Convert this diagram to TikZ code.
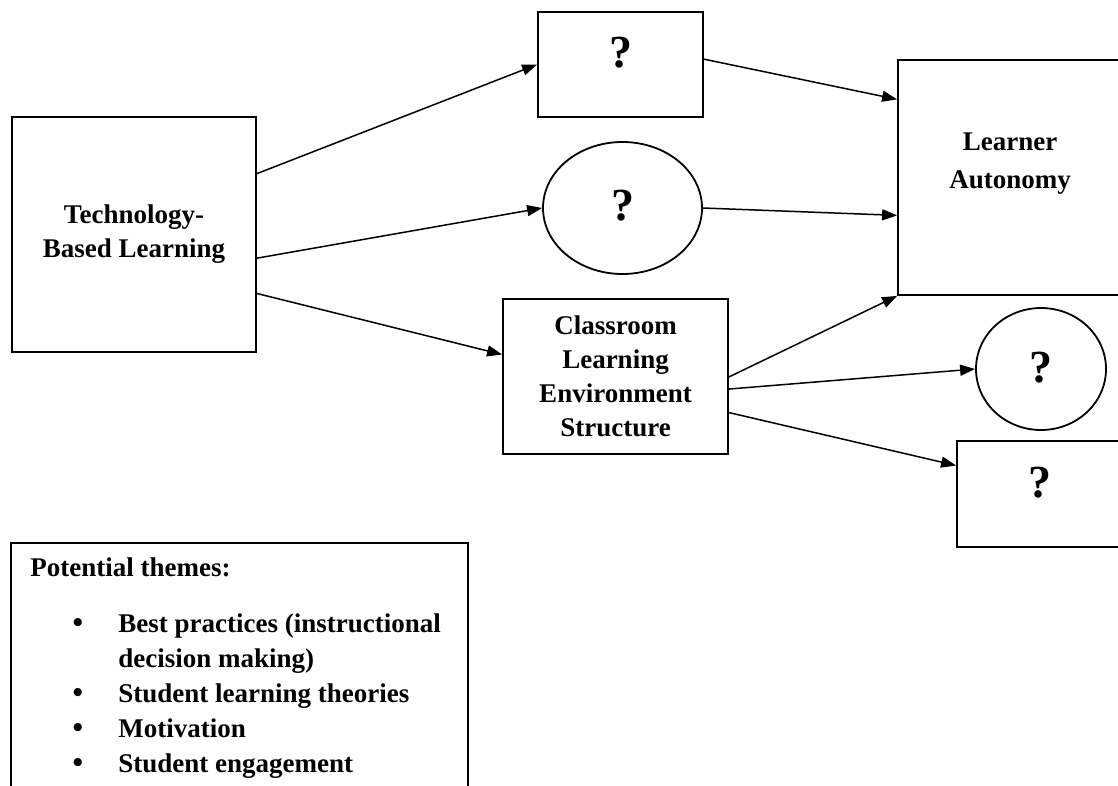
\documentclass[tikz,border=0pt]{standalone}
\usepackage{fontspec}
\setmainfont{Liberation Serif}
\usetikzlibrary{arrows.meta,calc,shapes.geometric}
\begin{document}
\begin{tikzpicture}[x=0.5pt,y=-0.5pt,
  box/.style={draw, line width=0.9pt, rectangle, inner sep=0pt},
  oval/.style={draw, line width=0.9pt, ellipse, inner sep=0pt},
  txt/.style={font=\bfseries\fontsize{13.5}{17}\selectfont, align=center, inner sep=0pt},
  qm/.style={font=\bfseries\fontsize{23}{27}\selectfont, inner sep=0pt},
  item/.style={font=\bfseries\fontsize{13.5}{17}\selectfont, inner sep=0pt, anchor=base west},
  bul/.style={font=\bfseries\fontsize{15}{17}\selectfont, inner sep=0pt, anchor=base},
  arr/.style={line width=0.75pt, -{Triangle[length=7.5pt,width=5.5pt]}}]
\useasboundingbox (0,0) rectangle (1118,786);
\clip (0,0) rectangle (1118,786);
\fill[white] (0,0) rectangle (1118,786);

% nodes
\node[box, txt, minimum width=122pt, minimum height=117.5pt] (tech) at (134,234.5) {Technology-\\Based Learning};

\node[box, minimum width=82.5pt, minimum height=52.5pt] (q1) at (620.5,64.5) {};
\node[qm] (q1t) at (620.5,53) {?};

\node[oval, minimum width=79.5pt, minimum height=66pt] (e1) at (622.5,208) {};
\node[qm] (e1t) at (622.5,206) {?};

\node[box, minimum width=112pt, minimum height=117.5pt] (L) at (1010,177.5) {};
\node[txt, font=\bfseries\fontsize{13.5}{19}\selectfont] (Lt) at (1010,164) {Learner\\Autonomy};

\node[box, txt, minimum width=112.5pt, minimum height=77.5pt] (C) at (615.5,376.5) {Classroom\\Learning\\Environment\\Structure};

\node[oval, minimum width=65pt, minimum height=61pt] (e2) at (1041,369) {};
\node[qm] (e2t) at (1041,368) {?};

\node[box, minimum width=83pt, minimum height=53pt] (q2) at (1040,494) {};
\node[qm] (q2t) at (1040,483) {?};

% themes box
\node[box, minimum width=228.5pt, minimum height=138.5pt] (themes) at (239.5,681.5) {};
\node[item] (h) at (30,576) {Potential themes:};
\node[bul] (b1) at (78,632) {•};
\node[item] (i1) at (118,632) {Best practices (instructional};
\node[item] (i1b) at (118,667) {decision making)};
\node[bul] (b2) at (78,702) {•};
\node[item] (i2) at (118,702) {Student learning theories};
\node[bul] (b3) at (78,737) {•};
\node[item] (i3) at (118,737) {Motivation};
\node[bul] (b4) at (78,772) {•};
\node[item] (i4) at (118,772) {Student engagement};

% connectors
\draw[arr] ($(tech.north east)!0.243!(tech.south east)$) -- (q1.west);
\draw[arr] ($(tech.north east)!0.6!(tech.south east)$) -- (e1.west);
\draw[arr] ($(tech.north east)!0.749!(tech.south east)$) -- ($(C.north west)!0.36!(C.south west)$);
\draw[arr] ($(q1.north east)!0.45!(q1.south east)$) -- ($(L.north west)!0.17!(L.south west)$);
\draw[arr] (e1.east) -- ($(L.north west)!0.66!(L.south west)$);
\draw[arr] ($(C.north east)!0.503!(C.south east)$) -- (L.south west);
\draw[arr] ($(C.north east)!0.58!(C.south east)$) -- (e2.west);
\draw[arr] ($(C.north east)!0.73!(C.south east)$) -- ($(q2.north west)!0.236!(q2.south west)$);
\end{tikzpicture}
\end{document}
